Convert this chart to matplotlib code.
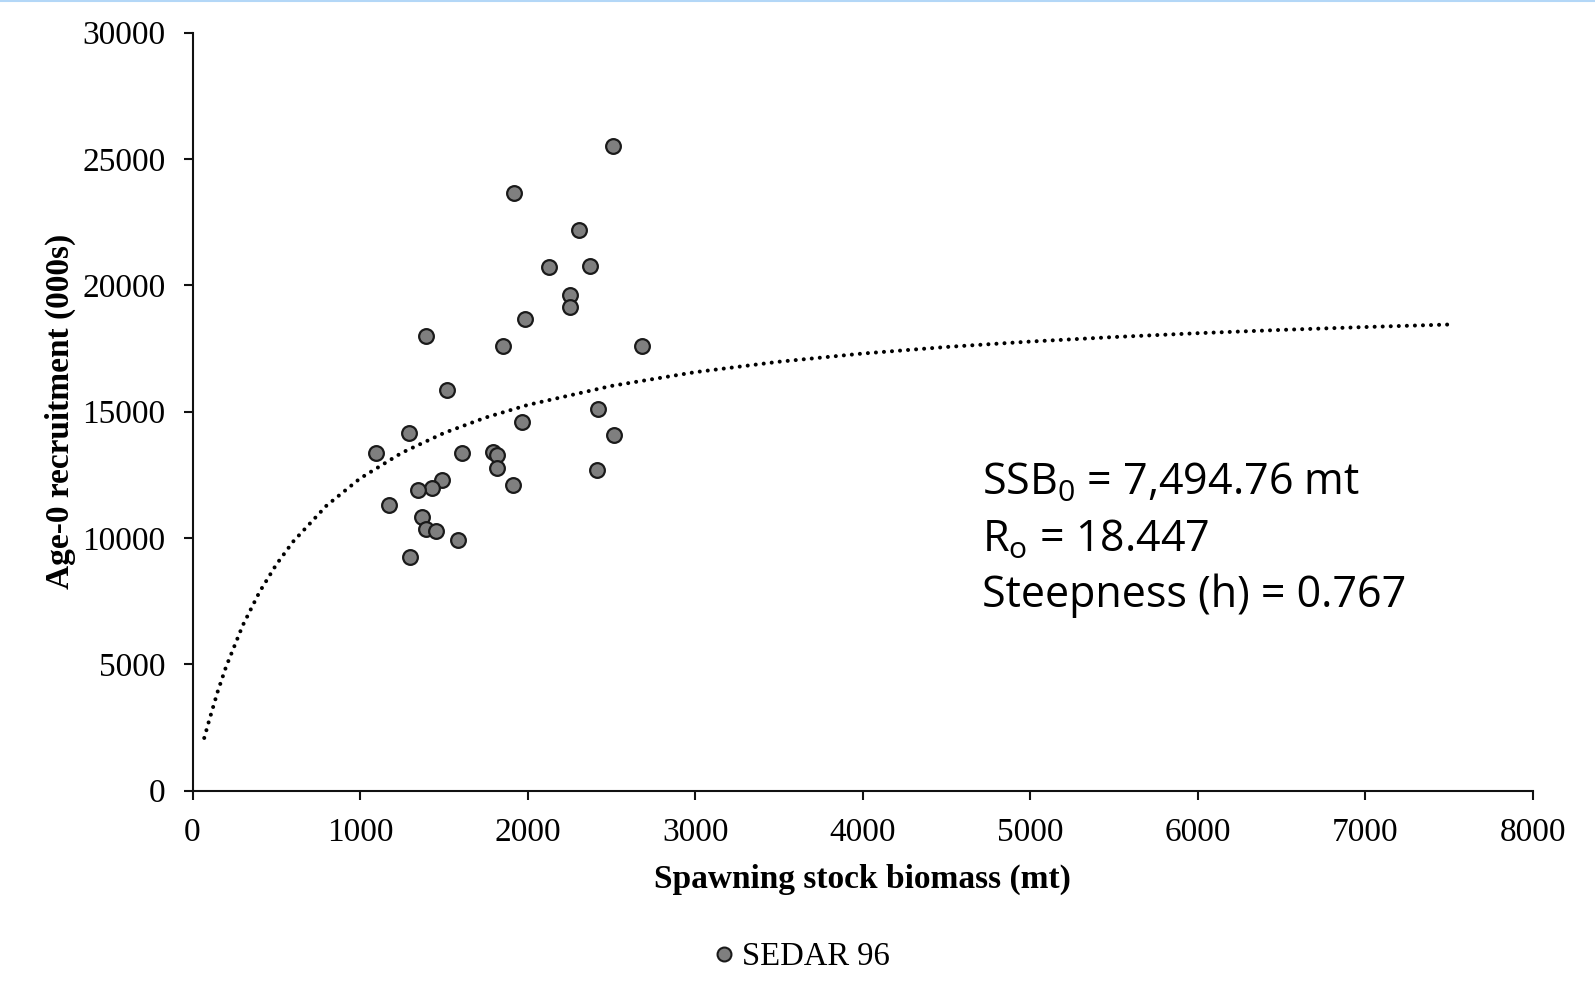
import matplotlib
matplotlib.use("Agg")
import matplotlib.pyplot as plt
from matplotlib.lines import Line2D

# ---- data ----
ssb = [2511, 1921, 2309, 2128, 2374, 2255, 2255, 1986, 1395, 1855, 2683,
       1521, 2422, 1966, 1290, 2516, 1093, 1610, 1791, 1815, 1815, 2412,
       1491, 1427, 1346, 1911, 1173, 1370, 1395, 1453, 1586, 1298]
recruits = [25515, 23666, 22190, 20713, 20764, 19604, 19153, 18654, 18005,
            17585, 17585, 15843, 15103, 14577, 14165, 14062, 13361, 13361,
            13401, 13295, 12780, 12676, 12305, 11988, 11884, 12094, 11302,
            10827, 10352, 10285, 9929, 9232]

curve_ssb = [70, 100, 150, 200, 300, 400, 500, 600, 800, 1000, 1250, 1500,
             1750, 2000, 2500, 3000, 3500, 4000, 4500, 5000, 5500, 6000,
             6500, 7000, 7500]
curve_rec = [2080, 2788, 3909, 4893, 6538, 7860, 8944, 9850, 11279, 12354,
             13373, 14151, 14766, 15262, 16017, 16562, 16975, 17299, 17559,
             17773, 17952, 18104, 18235, 18348, 18448]

x_ticks = [0, 1000, 2000, 3000, 4000, 5000, 6000, 7000, 8000]
y_ticks = [0, 5000, 10000, 15000, 20000, 25000, 30000]
series_name = "SEDAR 96"
x_label = "Spawning stock biomass (mt)"
y_label = "Age-0 recruitment (000s)"

sans = 'Open Sans'
serif = 'Liberation Serif'
plt.rcParams['mathtext.fontset'] = 'custom'
plt.rcParams['mathtext.rm'] = sans
plt.rcParams['mathtext.it'] = sans

W, H = 1595, 999
fig = plt.figure(figsize=(W / 100, H / 100), dpi=100)
ax = fig.add_axes([192.5 / W, 1 - 790.5 / H, (1533 - 192.5) / W, (790.5 - 32.7) / H])

# curve
ln, = ax.plot(curve_ssb, curve_rec, color='#000000', lw=2.9,
              dash_capstyle='round', zorder=2)
ln.set_dashes((0.01, 1.99))

# points
ax.scatter(ssb, recruits, s=10.6 ** 2, facecolor='#7f7f7f',
           edgecolor='#1a1a1a', linewidths=1.6, zorder=3)

ax.set_xlim(0, 8000)
ax.set_ylim(0, 30000)
ax.set_xticks(x_ticks)
ax.set_yticks(y_ticks)
ax.set_xticklabels([str(t) for t in x_ticks], fontfamily=serif, fontsize=24)
ax.set_yticklabels([str(t) for t in y_ticks], fontfamily=serif, fontsize=24)
ax.tick_params(axis='both', direction='out', length=6.5, width=1.5, color='#111111')
ax.tick_params(axis='x', pad=13)
ax.tick_params(axis='y', pad=13)
for s in ['top', 'right']:
    ax.spines[s].set_visible(False)
for s in ['left', 'bottom']:
    ax.spines[s].set_linewidth(1.5)
    ax.spines[s].set_color('#111111')

ax.set_xlabel(x_label, fontfamily=serif, fontweight='bold', fontsize=24)
ax.set_ylabel(y_label, fontfamily=serif, fontweight='bold', fontsize=24)
ax.xaxis.set_label_coords(0.5, -0.097)
ax.yaxis.set_label_coords(-0.087, 0.5)

# annotation text
tx = 982 / W
fig.text(tx, 1 - 495 / H, r"SS$\mathrm{B}_{\mathrm{0}}$ = 7,494.76 mt", fontfamily=sans,
         fontsize=31, va='baseline', ha='left')
fig.text(tx, 1 - 551.5 / H, r"$\mathrm{R}_{\mathrm{o}}$ = 18.447", fontfamily=sans,
         fontsize=31, va='baseline', ha='left')
fig.text(tx, 1 - 606.5 / H, "Steepness (h) = 0.767", fontfamily=sans,
         fontsize=31, va='baseline', ha='left')

# legend
handle = Line2D([], [], linestyle='none', marker='o', markersize=10,
                markerfacecolor='#7f7f7f', markeredgecolor='#1a1a1a',
                markeredgewidth=1.5)
fig.legend([handle], [series_name], loc='center',
           bbox_to_anchor=(802 / W, 1 - 957 / H), frameon=False,
           prop={'family': serif, 'size': 23.5}, handlelength=0.6,
           handletextpad=0.25)

# thin light-blue top border
fig.add_artist(Line2D([0, 1], [1 - 1 / H, 1 - 1 / H], transform=fig.transFigure,
                      color='#b3d7f7', lw=1.5))

fig.savefig("out.png", dpi=100)
